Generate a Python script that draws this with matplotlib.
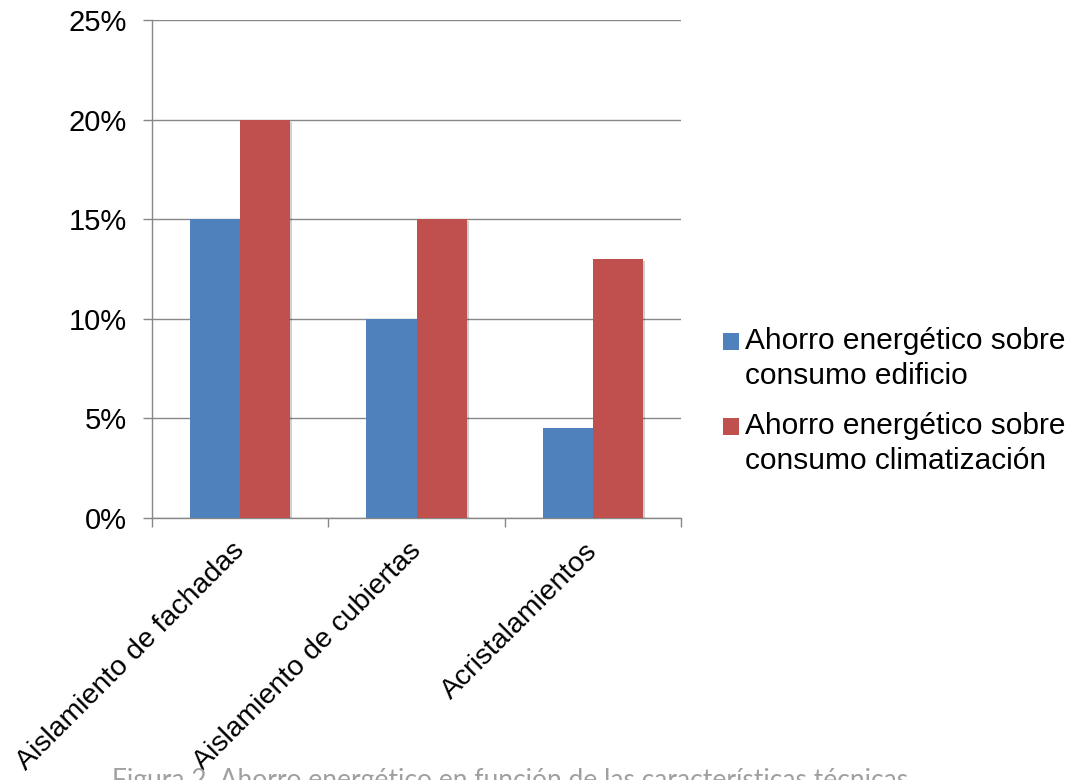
import matplotlib
matplotlib.use("Agg")
import matplotlib.pyplot as plt
from matplotlib.ticker import FuncFormatter, MultipleLocator
from matplotlib.legend_handler import HandlerPatch
from matplotlib.patches import Rectangle
import matplotlib.patheffects as pe
import numpy as np

categories = ["Aislamiento de fachadas", "Aislamiento de cubiertas", "Acristalamientos"]
series_names = ["Ahorro energético sobre\nconsumo edificio",
                "Ahorro energético sobre\nconsumo climatización"]
edificio = [15, 10, 4.5]
climatizacion = [20, 15, 13]
colors = ["#4F81BD", "#C0504D"]
caption = "Figura 2. Ahorro energético en función de las características técnicas"

plt.rcParams['font.family'] = ['Liberation Sans', 'DejaVu Sans']

LEG_FS = 21.5


class TopHandler(HandlerPatch):
    def __init__(self, dy, **kw):
        super().__init__(**kw)
        self.dy = dy

    def create_artists(self, legend, orig_handle, xdescent, ydescent, width,
                       height, fontsize, trans):
        p = Rectangle((-xdescent, -ydescent + self.dy), width, height,
                      facecolor=orig_handle.get_facecolor(), edgecolor='none',
                      transform=trans)
        return [p]


fig = plt.figure(figsize=(10.68, 7.80), dpi=100)
ax = fig.add_axes([152/1068, 1-518/780, (681-152)/1068, (518-20)/780])

x = np.arange(len(categories))
w = 50/176
shadow = [pe.SimplePatchShadow(offset=(1.5, -1.5), shadow_rgbFace='#000000', alpha=0.18), pe.Normal()]
b1 = ax.bar(x - w/2, edificio, w, color=colors[0], label=series_names[0], zorder=3)
b2 = ax.bar(x + w/2, climatizacion, w, color=colors[1], label=series_names[1], zorder=3)
for bars in (b1, b2):
    for r in bars:
        r.set_path_effects(shadow)

ax.set_xlim(-0.5, 2.5)
ax.set_ylim(0, 25)
ax.yaxis.set_major_locator(MultipleLocator(5))
ax.yaxis.set_major_formatter(FuncFormatter(lambda v, p: f"{v:.0f}%"))
ax.grid(axis='y', color='#878787', linewidth=1.0, zorder=0)
ax.set_axisbelow(True)

for s in ['top', 'right']:
    ax.spines[s].set_visible(False)
for s in ['left', 'bottom']:
    ax.spines[s].set_color('#878787')
    ax.spines[s].set_linewidth(1.0)

ax.set_xticks(x)
ax.set_xticklabels([])
ax.set_xticks(np.arange(-0.5, 3.0, 1.0), minor=True)
ax.tick_params(axis='x', which='major', length=0)
ax.tick_params(axis='x', which='minor', length=6.5, width=1.0, color='#878787', direction='out')
ax.tick_params(axis='y', length=6.5, width=1.0, color='#878787', direction='out',
               labelsize=21, pad=11.5)

for xi, lab in zip(x, categories):
    ax.text(xi - 0.05, -1.0, lab, rotation=45, ha='right', va='top',
            rotation_mode='anchor', fontsize=20.5, transform=ax.transData)

h1, h2 = b1.patches[0], b2.patches[0]
hmap = {h1: TopHandler(dy=12.5), h2: TopHandler(dy=12.5)}
leg = fig.legend(handles=[h1, h2], labels=series_names, loc='upper left',
                 bbox_to_anchor=(723/1068, 1-327/780), frameon=False,
                 fontsize=LEG_FS, handlelength=0.535, handleheight=0.535,
                 handletextpad=0.2, labelspacing=0.75, borderpad=0,
                 borderaxespad=0, handler_map=hmap)
for t in leg.get_texts():
    t.set_linespacing(1.3)

fig.text(112/1068, 1-768/780, caption, fontsize=19, color='#a0a0a0',
         family=['Lato', 'DejaVu Sans'], ha='left', va='top')

fig.savefig("out.png", dpi=100)
